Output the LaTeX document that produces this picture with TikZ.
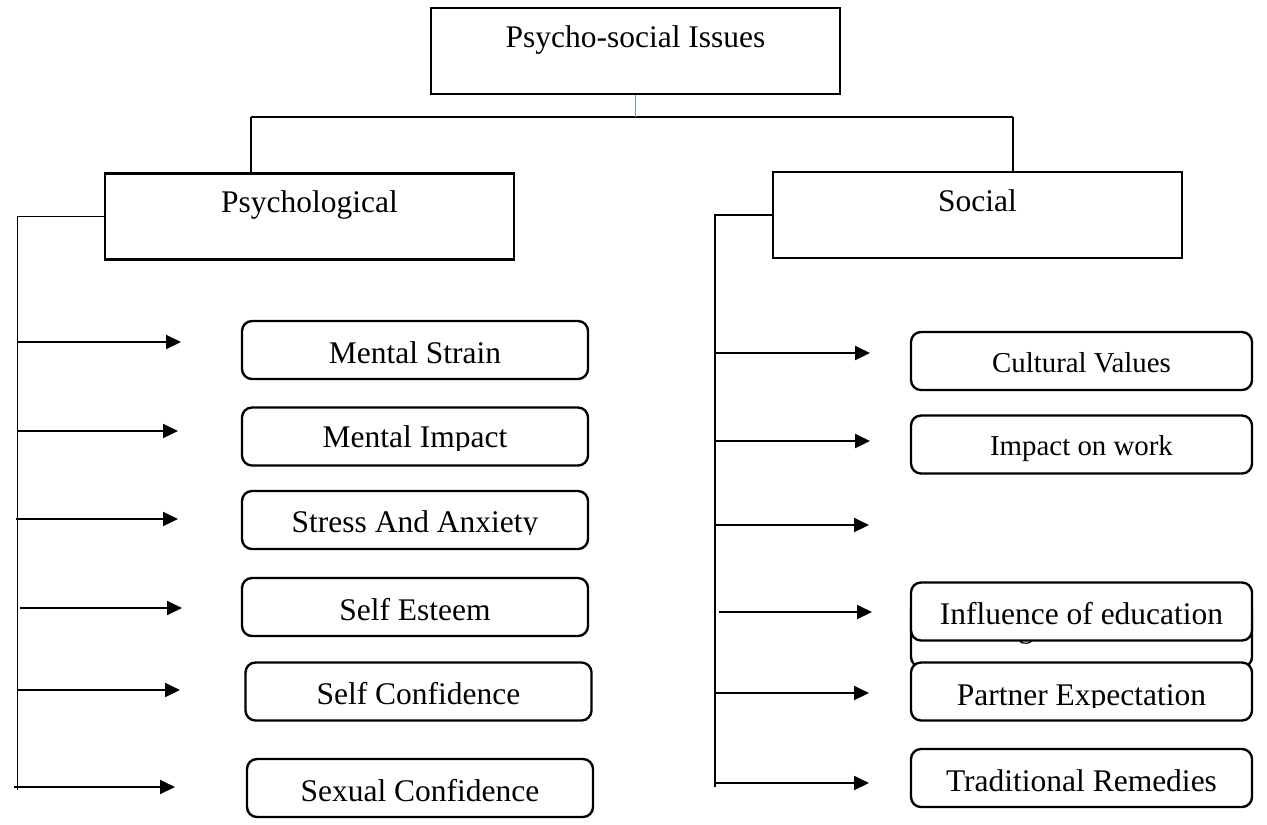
\documentclass[tikz,border=0pt]{standalone}
\usepackage{fontspec}
\setmainfont{Liberation Serif}
\usetikzlibrary{arrows.meta,calc}

\definecolor{linkblue}{RGB}{91,155,213}
\newcommand{\pxl}{0.381pt}

\begin{document}
\begin{tikzpicture}[x=\pxl, y=-\pxl,
    head/.style={draw, line width=1pt, inner sep=0pt, minimum width=409*\pxl, minimum height=86*\pxl,
      text height=8pt, text depth=11pt, font=\fontsize{12}{14}\selectfont},
    item/.style={draw, fill=white, rounded corners=3.8pt, line width=0.9pt, inner sep=0pt,
      minimum width=346*\pxl, minimum height=58*\pxl,
      text height=12pt, text depth=2pt, font=\fontsize{12}{14}\selectfont},
    ritem/.style={item, minimum width=341*\pxl},
    small/.style={font=\fontsize{11}{13}\selectfont, text height=11pt, text depth=2.5pt},
    itemtext/.style={inner sep=0pt, text height=12pt, text depth=2pt, font=\fontsize{12}{14}\selectfont},
    link/.style={line width=0.4pt},
    arr/.style={-{Triangle[length=5.7pt,width=5.3pt]}, line width=0.85pt}]

    \useasboundingbox (0,0) rectangle (1267,824);

    % heads
    \node[head] (top) at (635.5,51) {Psycho-social Issues};
    \node[head] (psy) at (309.5,216.5) {Psychological};
    \node[head] (soc) at (977.5,215) {Social};

    \coordinate (hl) at (251,117);
    \coordinate (hr) at (1013,117);
    \draw[link] (hl) -- (hr);
    \draw[link] (hl) -- (hl |- psy.north);
    \draw[link] (hr) -- (hr |- soc.north);
    \draw[link, linkblue] (top.south) -- (top.south |- hl);

    % psychological side
    \node[item] (strain) at (415,350) {Mental Strain};
    \node[item] (impact) at (415,436.5) {};
    \node[item] (stress) at (415,520) {};
    \node[item] (esteem) at (415,607) {Self Esteem};
    \node[item] (selfconf) at (418.5,691.5) {Self Confidence};
    \node[item] (sexconf) at (420,788) {Sexual Confidence};

    \begin{scope}
      \clip (242,400) rectangle (588,450);
      \node[itemtext] (impact-t) at (415,434) {Mental Impact};
    \end{scope}
    \begin{scope}
      \clip (242,480) rectangle (588,534.5);
      \node[itemtext] (stress-t) at (415,519) {Stress And Anxiety};
    \end{scope}

    \coordinate (lt) at (17.5,216.5);
    \coordinate (lb) at (17.5,790);
    \draw[link] (psy.west) -- (lt) -- (lb);

    \coordinate (a1) at (18,342);  \coordinate (b1) at (181,342);
    \coordinate (a2) at (18,431);  \coordinate (b2) at (178,431);
    \coordinate (a3) at (16,519);  \coordinate (b3) at (178,519);
    \coordinate (a4) at (20,608);  \coordinate (b4) at (182,608);
    \coordinate (a5) at (18,690);  \coordinate (b5) at (180,690);
    \coordinate (a6) at (14,787);  \coordinate (b6) at (175,787);
    \path[arr] (a1) edge (b1) (a2) edge (b2) (a3) edge (b3)
               (a4) edge (b4) (a5) edge (b5) (a6) edge (b6);

    % social side
    \node[ritem, small] (cultural) at (1081.5,361) {Cultural Values};
    \node[ritem, small] (work) at (1081.5,444.5) {Impact on work};
    \node[ritem, minimum height=67*\pxl] (hidden) at (1081.5,633.5) {};
    \node[anchor=base, inner sep=0pt, font=\fontsize{12}{14}\selectfont] (hidden-g) at (1026,637) {g};
    \node[ritem] (education) at (1081.5,611.5) {Influence of education};
    \node[ritem] (partner) at (1081.5,691.5) {};
    \node[ritem] (remedies) at (1081.5,778) {Traditional Remedies};

    \begin{scope}
      \clip (911,665) rectangle (1252,707.5);
      \node[itemtext] (partner-t) at (1081.5,692) {Partner Expectation};
    \end{scope}

    \coordinate (rt) at (715,215);
    \coordinate (rb) at (715,787);
    \draw[link] (soc.west) -- (rt) -- (rb);

    \coordinate (c1) at (715,353);  \coordinate (d1) at (870,353);
    \coordinate (c2) at (715,441);  \coordinate (d2) at (870,441);
    \coordinate (c3) at (715,525);  \coordinate (d3) at (869,525);
    \coordinate (c4) at (719,612);  \coordinate (d4) at (872,612);
    \coordinate (c5) at (715,693);  \coordinate (d5) at (869,693);
    \coordinate (c6) at (715,783);  \coordinate (d6) at (869,783);
    \path[arr] (c1) edge (d1) (c2) edge (d2) (c3) edge (d3)
               (c4) edge (d4) (c5) edge (d5) (c6) edge (d6);

\end{tikzpicture}
\end{document}
